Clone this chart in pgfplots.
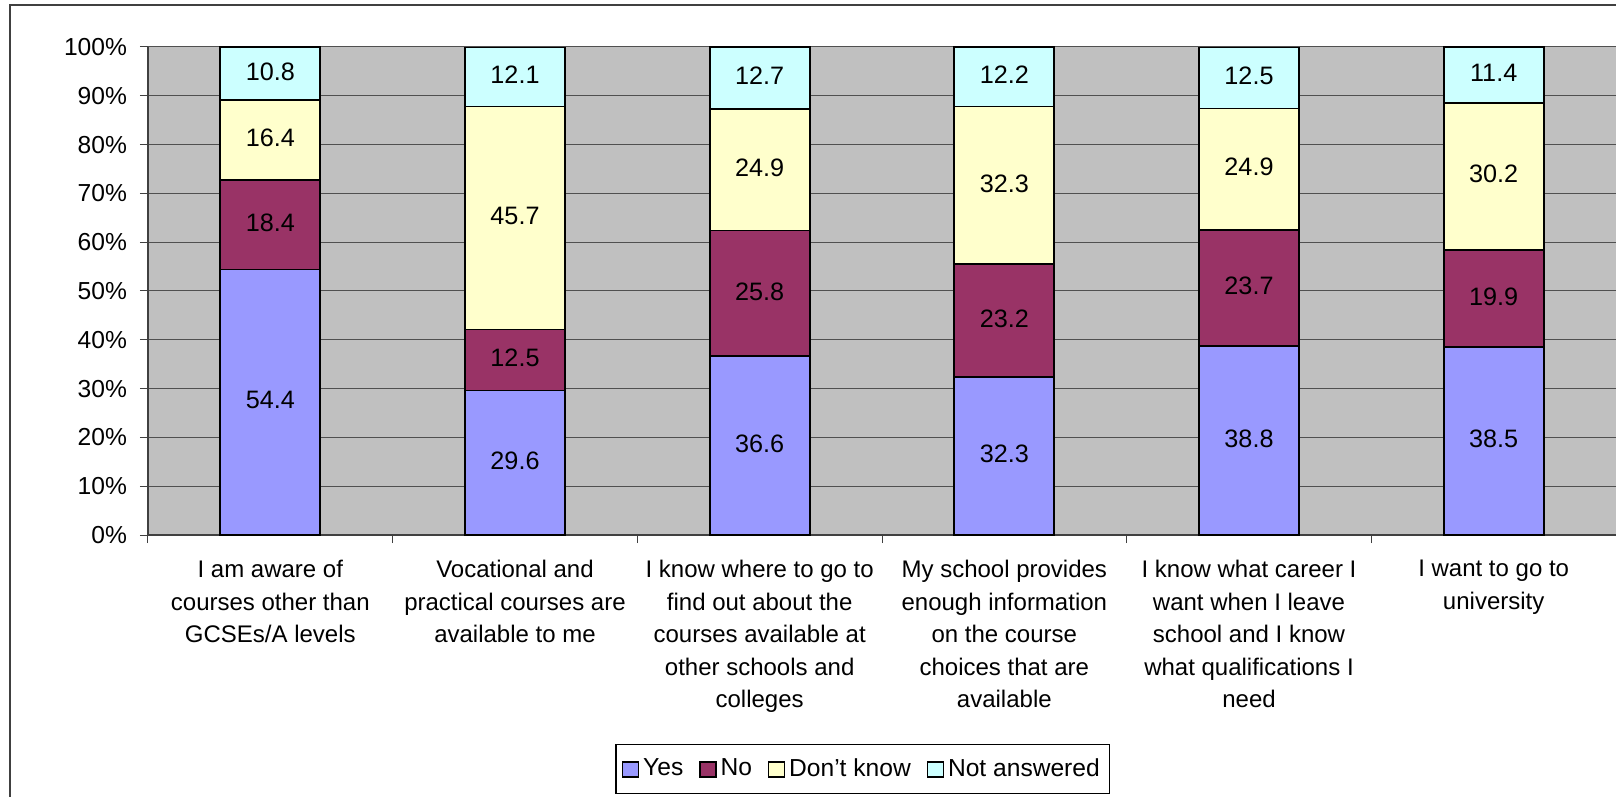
\documentclass[border=0pt]{standalone}
\usepackage{fontspec}
\setmainfont{Liberation Sans}
\usepackage{pgfplots}
\usepackage{pgfplotstable}
\pgfplotsset{compat=1.18}

\definecolor{yescol}{RGB}{153,153,255}
\definecolor{nocol}{RGB}{153,51,102}
\definecolor{dkcol}{RGB}{255,255,204}
\definecolor{nacol}{RGB}{204,255,255}
\definecolor{plotbg}{RGB}{192,192,192}
\definecolor{gridcol}{RGB}{80,80,80}

\pgfplotstableread{
x yes no dk na
0 54.4 18.4 16.4 10.8
1 29.6 12.5 45.7 12.1
2 36.6 25.8 24.9 12.7
3 32.3 23.2 32.3 12.2
4 38.8 23.7 24.9 12.5
5 38.5 19.9 30.2 11.4
}\survey

\newcommand{\lblfont}{\fontsize{12}{16.3}\selectfont}
\newcommand{\tickfont}{\fontsize{12.3}{15}\selectfont}
\newcommand{\valfont}{\fontsize{12.6}{15}\selectfont}

\begin{document}
\begin{tikzpicture}
\begin{axis}[
  scale only axis, width=734pt, height=244pt,
  ybar stacked, bar width=50pt,
  xmin=-0.5, xmax=5.5, ymin=0, ymax=100,
  enlargelimits=false, clip=false,
  axis background/.style={fill=plotbg},
  axis x line*=bottom, axis y line*=left,
  axis line style={draw=black!75, line width=0.6pt},
  tick align=outside, major tick length=4pt, minor tick length=4pt,
  ytick={0,10,...,100},
  yticklabels={0\%,10\%,20\%,30\%,40\%,50\%,60\%,70\%,80\%,90\%,100\%},
  y tick style={draw=black!75, line width=0.5pt},
  xtick={0,...,5},
  major x tick style={draw=none},
  minor xtick={-0.5,0.5,...,5.5},
  minor x tick style={draw=black!75, line width=0.5pt},
  xticklabels={
    {I am aware of\\courses other than\\GCSEs/A levels},
    {Vocational and\\practical courses are\\available to me},
    {I know where to go to\\find out about the\\courses available at\\other schools and\\colleges},
    {My school provides\\enough information\\on the course\\choices that are\\available},
    {I know what career I\\want when I leave\\school and I know\\what qualifications I\\need},
    {I want to go to\\university}},
  xticklabel style={align=center, font=\lblfont, anchor=north, yshift=-5pt},
  yticklabel style={font=\tickfont, xshift=-3pt},
  ymajorgrids, grid style={draw=gridcol, line width=0.5pt},
  legend style={at={(0.487,-0.4795)}, anchor=center, draw=black,
    line width=0.6pt, fill=white, font=\tickfont, legend columns=4,
    inner xsep=3pt, inner ysep=5pt,
    /tikz/every even column/.append style={column sep=6pt}},
  legend image code/.code={\draw[#1, line width=0.6pt] (0pt,-4pt) rectangle (8pt,3.5pt);},
]
\addplot[fill=yescol, draw=black, line width=0.9pt] table[x=x, y=yes] {\survey};
\addplot[fill=nocol, draw=black, line width=0.9pt] table[x=x, y=no] {\survey};
\addplot[fill=dkcol, draw=black, line width=0.9pt] table[x=x, y=dk] {\survey};
\addplot[fill=nacol, draw=black, line width=0.9pt] table[x=x, y=na] {\survey};
\legend{Yes, No, Don’t know, Not answered}
\end{axis}
% data labels centred in each segment
\begin{axis}[
  scale only axis, width=734pt, height=244pt,
  xmin=-0.5, xmax=5.5, ymin=0, ymax=100,
  enlargelimits=false, clip=false, hide axis,
  nodes near coords={\pgfplotspointmeta},
  point meta=explicit symbolic,
  every node near coord/.append style={anchor=center, font=\valfont, text=black, yshift=1pt},
]
\addplot[only marks, mark=none] table[x=x, y expr=\thisrow{yes}/2, meta=yes] {\survey};
\addplot[only marks, mark=none] table[x=x, y expr=\thisrow{yes}+\thisrow{no}/2, meta=no] {\survey};
\addplot[only marks, mark=none] table[x=x, y expr=\thisrow{yes}+\thisrow{no}+\thisrow{dk}/2, meta=dk] {\survey};
\addplot[only marks, mark=none] table[x=x, y expr=\thisrow{yes}+\thisrow{no}+\thisrow{dk}+\thisrow{na}/2, meta=na] {\survey};
\end{axis}
\draw[draw=black!75, line width=0.6pt] (-69pt,-140pt) -- (-69pt,265pt) -- (745pt,265pt);
\pgfresetboundingbox
\useasboundingbox (-74pt,-131pt) rectangle (734pt,267.5pt);
\end{tikzpicture}
\end{document}
